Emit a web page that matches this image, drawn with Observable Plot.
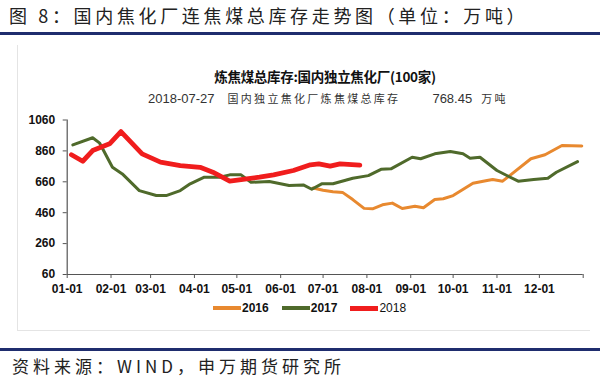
<!DOCTYPE html>
<html>
<head>
<meta charset="utf-8">
<script src="https://cdn.jsdelivr.net/npm/d3@7"></script>
<script src="https://cdn.jsdelivr.net/npm/@observablehq/plot@0.6"></script>
<style>
  html, body { margin: 0; padding: 0; background: #fff; }
  #wrap { position: relative; width: 600px; height: 378px; overflow: hidden; background: #fff; }
  .abs { position: absolute; white-space: nowrap; }
  #head { left: 9px; top: 2px; font: 18px "Noto Sans CJK SC", sans-serif; letter-spacing: 3.65px; color: #222; line-height: 26px; }
  .rule { position: absolute; left: 0; width: 600px; height: 3px; background: #1f2d6e; }
  #ctitle { left: 0; width: 650px; top: 67px; text-align: center; font: bold 13.5px "Noto Sans CJK SC", sans-serif; color: #111; line-height: 18px; letter-spacing: -0.3px; }
  #sub { top: 90px; left: 148px; font: 13px "Liberation Sans", sans-serif; color: #333; line-height: 16px; }
  #sub .cn { font: 11px "Noto Sans CJK SC", sans-serif; letter-spacing: 2.3px; }
  #chart { position: absolute; left: 0; top: 100px; }
  #legend { top: 300px; left: 213px; font: bold 12px "Liberation Sans", sans-serif; color: #111; line-height: 16px; display: flex; align-items: center; }
  #legend .sw { display: inline-block; width: 28px; height: 4px; }
  #legend .it { display: flex; align-items: center; margin-right: 13px; }
  #src { left: 12px; top: 354px; font: 17px "Noto Sans CJK SC", sans-serif; letter-spacing: 4px; color: #222; line-height: 24px; }
  .faint { position: absolute; background: #e4e4e4; }
</style>
</head>
<body>
<div id="wrap">
  <div class="abs" id="head">图 8：国内焦化厂连焦煤总库存走势图（单位：万吨）</div>
  <div class="rule" style="top:32px"></div>
  <div class="faint" style="left:17px; top:45px; width:1px; height:286px"></div>
  <div class="faint" style="left:17px; top:330px; width:573px; height:1px"></div>
  <div class="abs" id="ctitle">炼焦煤总库存:国内独立焦化厂(100家)</div>
  <div class="abs" id="sub">2018-07-27<span style="display:inline-block;width:13px"></span><span class="cn">国内独立焦化厂炼焦煤总库存</span><span style="display:inline-block;width:32px"></span>768.45<span style="display:inline-block;width:9px"></span><span class="cn">万吨</span></div>
  <div id="chart"></div>
  <div class="abs" id="legend"></div>
  <div class="rule" style="top:348px"></div>
  <div class="abs" id="src">资料来源：WIND，申万期货研究所</div>
</div>
<script>
// ---- data (month-day, value in 万吨) ----
const series = ["2016", "2017", "2018"];
const colors = ["#e8892f", "#4f6a2b", "#f01d1d"];

const dates2016 = ["06-24","07-01","07-08","07-15","07-22","07-30","08-05","08-12","08-19","08-26","09-04","09-10","09-18","09-24","10-01","10-15","10-25","10-29","11-05","11-10","11-25","12-05","12-17","12-31"];
const values2016 = [620,605,595,590,545,488,485,511,522,487,502,492,545,550,571,650,668,675,664,700,809,835,895,892];

const dates2017 = ["01-05","01-19","01-24","02-02","02-09","02-21","03-05","03-12","03-22","03-29","04-08","04-19","04-26","05-04","05-11","05-24","06-07","06-17","06-23","06-30","07-08","07-22","08-02","08-11","08-18","09-02","09-08","09-18","09-29","10-08","10-13","10-20","11-01","11-09","11-16","11-27","12-07","12-13","12-28"];
const values2017 = [899,945,910,754,711,603,571,571,603,647,690,690,705,705,657,662,636,640,612,647,647,683,700,741,744,819,809,841,856,841,813,819,733,696,664,675,683,722,791];

const dates2018 = ["01-04","01-12","01-19","01-31","02-08","02-23","03-08","03-22","04-05","04-14","04-26","05-08","05-17","05-27","06-10","06-22","06-28","07-06","07-13","07-27"];
const values2018 = [835,793,862,906,985,841,787,765,754,722,664,679,690,705,733,770,776,761,776,768.45];

const monthLabels = ["01-01","02-01","03-01","04-01","05-01","06-01","07-01","08-01","09-01","10-01","11-01","12-01"];
const yTicks = [60, 260, 460, 660, 860, 1060];

// ---- build ----
const D = (md, yr = 2001) => { const [m, d] = md.split("-").map(Number); return new Date(Date.UTC(yr, m - 1, d)); };
const toRows = (ds, vs, s) => ds.map((d, i) => ({ date: D(d), value: vs[i], series: s }));
const rows = [
  ...toRows(dates2016, values2016, "2016"),
  ...toRows(dates2017, values2017, "2017"),
  ...toRows(dates2018, values2018, "2018")
];
const xStart = D("01-01");
const xEnd = new Date(Date.UTC(2002, 0, 1));
const xTicks = [...monthLabels.map(m => D(m)), xEnd];
const widths = { "2016": 3, "2017": 3, "2018": 4.8 };

const chart = Plot.plot({
  width: 600,
  height: 200,
  marginTop: 19.5,
  marginBottom: 26,
  marginLeft: 66.7,
  marginRight: 17.3,
  x: { type: "utc", domain: [xStart, xEnd] },
  y: { domain: [60, 1060] },
  style: { fontFamily: "'Liberation Sans', sans-serif", fontSize: "12px", color: "#111", background: "transparent", overflow: "visible" },
  marks: [
    Plot.axisY({ ticks: yTicks, tickSize: 4, tickPadding: 8, fontWeight: "bold", stroke: "#555", label: null, tickFormat: d => String(d) }),
    Plot.axisX({ ticks: xTicks, tickSize: 4, tickPadding: 6, fontWeight: "bold", stroke: "#555", label: null,
      tickFormat: d => d.getUTCFullYear() === 2002 ? "" : d3.utcFormat("%m-%d")(d) }),
    Plot.ruleX([xStart], { stroke: "#555", strokeWidth: 1.2 }),
    Plot.ruleY([60], { stroke: "#555", strokeWidth: 1.2 }),
    ...series.map((s, i) => Plot.line(rows.filter(r => r.series === s), {
      x: "date", y: "value", stroke: colors[i], strokeWidth: widths[s], strokeLinejoin: "round", strokeLinecap: "round"
    }))
  ]
});
document.getElementById("chart").appendChild(chart);

// legend
const leg = document.getElementById("legend");
series.forEach((s, i) => {
  const it = document.createElement("div");
  it.className = "it";
  const sw = document.createElement("span");
  sw.className = "sw";
  sw.style.background = colors[i];
  if (s === "2018") sw.style.height = "5px";
  const t = document.createElement("span");
  t.textContent = s;
  t.style.marginLeft = "1px";
  if (s === "2018") t.style.fontWeight = "normal";
  it.appendChild(sw); it.appendChild(t);
  leg.appendChild(it);
});
</script>
</body>
</html>
